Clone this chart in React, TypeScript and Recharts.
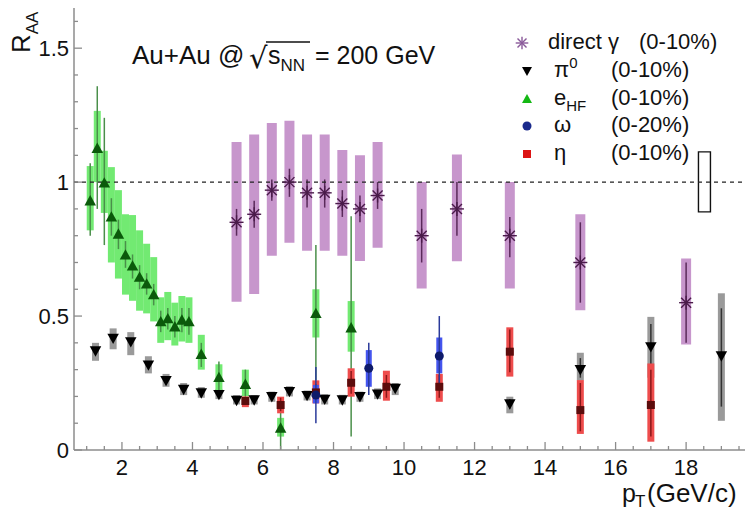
import React from "react";
import { ComposedChart, Scatter, XAxis, YAxis, ErrorBar, ReferenceArea } from "recharts";

const W = 751;
const H = 510;
const FONT = "'Liberation Sans', Arial, sans-serif";
const AXIS_GREY = "#8c8c8c";

// direct gamma (0-10%)
const gammaPt = [5.25, 5.75, 6.25, 6.75, 7.25, 7.75, 8.25, 8.75, 9.25, 10.5, 11.5, 13, 15, 18];
const gammaRaa = [0.85, 0.88, 0.97, 1.0, 0.96, 0.96, 0.92, 0.9, 0.95, 0.8, 0.9, 0.8, 0.7, 0.55];
const gammaStat = [[0.8, 0.9], [0.83, 0.93], [0.93, 1.01], [0.945, 1.05], [0.905, 1.01], [0.905, 1.01], [0.87, 0.97], [0.85, 0.95], [0.9, 1.0], [0.7, 0.9], [0.8, 1.0], [0.72, 0.87], [0.55, 0.85], [0.4, 0.7]];
const gammaSys = [[0.553, 1.15], [0.582, 1.178], [0.725, 1.221], [0.774, 1.229], [0.744, 1.178], [0.744, 1.178], [0.725, 1.12], [0.706, 1.1], [0.755, 1.15], [0.603, 1.0], [0.705, 1.103], [0.603, 1.0], [0.522, 0.88], [0.394, 0.715]];

// pi0 (0-10%)
const pi0Pt = [1.25, 1.75, 2.25, 2.75, 3.25, 3.75, 4.25, 4.75, 5.25, 5.75, 6.25, 6.75, 7.25, 7.75, 8.25, 8.75, 9.25, 9.75, 13, 15, 17, 19];
const pi0Raa = [0.37, 0.417, 0.404, 0.317, 0.259, 0.226, 0.213, 0.207, 0.185, 0.187, 0.199, 0.218, 0.203, 0.189, 0.187, 0.199, 0.209, 0.23, 0.172, 0.3, 0.385, 0.351];
const pi0Stat = [[0.36, 0.38], [0.405, 0.43], [0.39, 0.415], [0.305, 0.33], [0.25, 0.27], [0.218, 0.235], [0.205, 0.222], [0.199, 0.215], [0.178, 0.193], [0.18, 0.195], [0.19, 0.208], [0.208, 0.228], [0.193, 0.213], [0.18, 0.2], [0.177, 0.198], [0.188, 0.21], [0.197, 0.222], [0.215, 0.245], [0.155, 0.19], [0.27, 0.343], [0.3, 0.47], [0.162, 0.529]];
const pi0Sys = [[0.333, 0.4], [0.376, 0.454], [0.354, 0.44], [0.286, 0.35], [0.236, 0.284], [0.205, 0.25], [0.195, 0.235], [0.19, 0.228], [0.17, 0.205], [0.17, 0.205], [0.18, 0.218], [0.2, 0.238], [0.185, 0.222], [0.17, 0.208], [0.17, 0.206], [0.18, 0.218], [0.19, 0.23], [0.205, 0.25], [0.137, 0.199], [0.26, 0.363], [0.27, 0.497], [0.109, 0.585]];

// heavy flavour electrons (0-10%)
const ehfPt = [1.1, 1.3, 1.5, 1.7, 1.9, 2.1, 2.3, 2.5, 2.7, 2.9, 3.1, 3.3, 3.5, 3.7, 3.9, 4.25, 4.75, 5.5, 6.5, 7.5, 8.5];
const ehfRaa = [0.93, 1.126, 0.997, 0.87, 0.806, 0.728, 0.687, 0.645, 0.62, 0.58, 0.479, 0.49, 0.46, 0.485, 0.479, 0.357, 0.271, 0.245, 0.082, 0.51, 0.456];
const ehfStat = [[0.8, 1.07], [0.9, 1.358], [0.765, 1.24], [0.8, 0.94], [0.75, 0.86], [0.68, 0.78], [0.64, 0.73], [0.6, 0.69], [0.58, 0.66], [0.54, 0.62], [0.44, 0.52], [0.45, 0.53], [0.42, 0.5], [0.44, 0.53], [0.43, 0.53], [0.31, 0.4], [0.22, 0.33], [0.19, 0.3], [0.0, 0.16], [0.26, 0.765], [0.05, 0.873]];
const ehfSys = [[0.82, 1.06], [1.0, 1.266], [0.885, 1.117], [0.7, 1.056], [0.64, 0.97], [0.58, 0.88], [0.557, 0.877], [0.52, 0.82], [0.51, 0.77], [0.48, 0.72], [0.4, 0.57], [0.41, 0.59], [0.39, 0.55], [0.405, 0.575], [0.4, 0.57], [0.3, 0.43], [0.22, 0.32], [0.2, 0.3], [0.05, 0.12], [0.42, 0.6], [0.367, 0.556]];

// omega (0-20%)
const omegaPt = [7.5, 9.0, 11.0];
const omegaRaa = [0.205, 0.305, 0.351];
const omegaStat = [[0.1, 0.31], [0.205, 0.4], [0.24, 0.5]];
const omegaSys = [[0.174, 0.243], [0.236, 0.373], [0.286, 0.42]];

// eta (0-10%)
const etaPt = [5.5, 6.5, 7.5, 8.5, 9.5, 11, 13, 15, 17];
const etaRaa = [0.183, 0.168, 0.215, 0.251, 0.236, 0.236, 0.367, 0.149, 0.168];
const etaStat = [[0.168, 0.198], [0.145, 0.195], [0.185, 0.245], [0.21, 0.295], [0.195, 0.28], [0.195, 0.28], [0.29, 0.45], [0.07, 0.25], [0.05, 0.3]];
const etaSys = [[0.16, 0.2], [0.137, 0.199], [0.174, 0.26], [0.199, 0.305], [0.184, 0.296], [0.18, 0.284], [0.274, 0.458], [0.06, 0.261], [0.031, 0.323]];

const xDomain = [0.64, 19.67];
const yDomain = [0, 1.65];
const xTicks = [1, 1.5, 2, 2.5, 3, 3.5, 4, 4.5, 5, 5.5, 6, 6.5, 7, 7.5, 8, 8.5, 9, 9.5, 10, 10.5, 11, 11.5, 12, 12.5, 13, 13.5, 14, 14.5, 15, 15.5, 16, 16.5, 17, 17.5, 18, 18.5, 19, 19.5];
const xLabels = [2, 4, 6, 8, 10, 12, 14, 16, 18];
const yTicks = [0, 0.1, 0.2, 0.3, 0.4, 0.5, 0.6, 0.7, 0.8, 0.9, 1, 1.1, 1.2, 1.3, 1.4, 1.5, 1.6];
const yLabels = [0, 0.5, 1, 1.5];
// R_AA = 1 reference, across the full pT range
const unityLine = [{ x: xDomain[0], y: 1 }, { x: xDomain[1], y: 1 }];
// global normalisation uncertainty box near pT = 18.5
const normBox = { x1: 18.35, x2: 18.69, y1: 0.889, y2: 1.113 };

function rows(pt: number[], v: number[], stat: number[][], sys: number[][]) {
  return pt.map((x, i) => ({
    x,
    y: v[i],
    stat: [v[i] - stat[i][0], stat[i][1] - v[i]],
    sys: [v[i] - sys[i][0], sys[i][1] - v[i]],
  }));
}

const gammaData = rows(gammaPt, gammaRaa, gammaStat, gammaSys);
const pi0Data = rows(pi0Pt, pi0Raa, pi0Stat, pi0Sys);
const ehfData = rows(ehfPt, ehfRaa, ehfStat, ehfSys);
const omegaData = rows(omegaPt, omegaRaa, omegaStat, omegaSys);
const etaData = rows(etaPt, etaRaa, etaStat, etaSys);

const isLabelX = (v: number) => xLabels.includes(v);
const isLabelY = (v: number) => yLabels.some((l) => Math.abs(l - v) < 1e-6);

function XTickBottom({ x, y, payload }: any) {
  const v = payload.value;
  const len = isLabelX(v) ? 8 : 4;
  return (
    <g>
      <line x1={x} x2={x} y1={y} y2={y - len} stroke={AXIS_GREY} strokeWidth={1.3} />
      {isLabelX(v) && (
        <text x={x} y={y + 25} textAnchor="middle" fontSize={22} fontFamily={FONT} fill="#111">
          {v}
        </text>
      )}
    </g>
  );
}

function XTickTop({ x, y, payload }: any) {
  const len = isLabelX(payload.value) ? 8 : 4;
  return <line x1={x} x2={x} y1={y} y2={y + len} stroke={AXIS_GREY} strokeWidth={1.3} />;
}

function YTickLeft({ x, y, payload }: any) {
  const v = payload.value;
  const len = isLabelY(v) ? 8 : 4;
  return (
    <g>
      <line x1={x} x2={x + len} y1={y} y2={y} stroke={AXIS_GREY} strokeWidth={1.3} />
      {isLabelY(v) && (
        <text x={x - 5} y={y + 8} textAnchor="end" fontSize={22} fontFamily={FONT} fill="#111">
          {v}
        </text>
      )}
    </g>
  );
}

function YTickRight({ x, y, payload }: any) {
  const len = isLabelY(payload.value) ? 8 : 4;
  return <line x1={x} x2={x - len} y1={y} y2={y} stroke={AXIS_GREY} strokeWidth={1.3} />;
}

function DownTri({ cx, cy, fill = "#000", s = 1.15 }: any) {
  return <path d={`M${cx - 5 * s},${cy - 4 * s} L${cx + 5 * s},${cy - 4 * s} L${cx},${cy + 5 * s} Z`} fill={fill} />;
}

function UpTri({ cx, cy, fill = "#0b5a0b", s = 1.15 }: any) {
  return <path d={`M${cx - 5 * s},${cy + 4 * s} L${cx + 5 * s},${cy + 4 * s} L${cx},${cy - 5 * s} Z`} fill={fill} />;
}

function Star({ cx, cy, stroke = "#4a1b4a", s = 1 }: any) {
  const r = 7 * s;
  const d = 5 * s;
  return (
    <g stroke={stroke} strokeWidth={1.4}>
      <line x1={cx - r} x2={cx + r} y1={cy} y2={cy} />
      <line x1={cx} x2={cx} y1={cy - r} y2={cy + r} />
      <line x1={cx - d} x2={cx + d} y1={cy - d} y2={cy + d} />
      <line x1={cx - d} x2={cx + d} y1={cy + d} y2={cy - d} />
    </g>
  );
}

function Dot({ cx, cy, fill = "#0e1a6a", r = 4.5 }: any) {
  return <circle cx={cx} cy={cy} r={r} fill={fill} />;
}

function Sq({ cx, cy, fill = "#5c0c0c", h = 4 }: any) {
  return <rect x={cx - h} y={cy - h} width={2 * h} height={2 * h} fill={fill} />;
}

function Overlay() {
  const rowsY = [49, 77, 105, 132, 160];
  const lx = 554;
  const px = 611;
  const t = { fontSize: 22, fontFamily: FONT, fill: "#111" };
  return (
    <svg width={W} height={H} style={{ position: "absolute", left: 0, top: 0, pointerEvents: "none" }}>
      <text x={30} y={53} transform="rotate(-90 30 53)" fontSize={26} fontFamily={FONT} fill="#111">
        R<tspan fontSize={17} dy={8}>AA</tspan>
      </text>

      <text x={132} y={64} fontSize={26} fontFamily={FONT} fill="#111">Au+Au @</text>
      <text x={249} y={68} fontSize={29} fontFamily="'DejaVu Sans', sans-serif" fill="#111">√</text>
      <line x1={266} x2={310} y1={42} y2={42} stroke="#111" strokeWidth={1.4} />
      <text x={268} y={64} fontSize={25} fontFamily={FONT} fill="#111">
        s<tspan fontSize={17} dy={7}>NN</tspan>
      </text>
      <text x={315} y={64} fontSize={25} fontFamily={FONT} fill="#111">= 200 GeV</text>

      <Star cx={522} cy={rowsY[0] - 6} stroke="#8a5a9a" s={0.9} />
      <text x={548} y={rowsY[0]} {...t}>direct γ</text>
      <text x={639} y={rowsY[0]} {...t}>(0-10%)</text>

      <DownTri cx={527} cy={rowsY[1] - 6} fill="#000" s={1} />
      <text x={lx} y={rowsY[1]} {...t}>
        π<tspan fontSize={15} dy={-9}>0</tspan>
      </text>
      <text x={px} y={rowsY[1]} {...t}>(0-10%)</text>

      <UpTri cx={527} cy={rowsY[2] - 6} fill="#14b814" s={1} />
      <text x={lx} y={rowsY[2]} {...t}>
        e<tspan fontSize={15} dy={6}>HF</tspan>
      </text>
      <text x={px} y={rowsY[2]} {...t}>(0-10%)</text>

      <Dot cx={527} cy={rowsY[3] - 6} fill="#1a2a8c" r={4.5} />
      <text x={lx} y={rowsY[3]} {...t}>ω</text>
      <text x={px} y={rowsY[3]} {...t}>(0-20%)</text>

      <Sq cx={527} cy={rowsY[4] - 6} fill="#dc1414" h={4} />
      <text x={lx} y={rowsY[4]} {...t}>η</text>
      <text x={px} y={rowsY[4]} {...t}>(0-10%)</text>

      <text x={622} y={502} fontSize={25} fontFamily={FONT} fill="#111">p</text>
      <text x={635} y={507} fontSize={17} fontFamily={FONT} fill="#111">T</text>
      <text x={647} y={502} fontSize={26} fontFamily={FONT} fill="#111">(GeV/c)</text>
    </svg>
  );
}

export default function App() {
  return (
    <div style={{ position: "absolute", left: 0, top: 0, width: W, height: H, background: "#fff" }}>
      <ComposedChart width={W} height={H} margin={{ top: 8, right: 6, bottom: 0, left: 0 }}>
        <XAxis
          xAxisId="b"
          dataKey="x"
          type="number"
          domain={xDomain}
          allowDataOverflow
          ticks={xTicks}
          interval={0}
          tickSize={0}
          tickMargin={0}
          tickLine={false}
          height={60}
          axisLine={{ stroke: AXIS_GREY, strokeWidth: 1.5 }}
          tick={<XTickBottom />}
        />
        <XAxis
          xAxisId="t"
          orientation="top"
          type="number"
          domain={xDomain}
          allowDataOverflow
          ticks={xTicks}
          interval={0}
          tickSize={0}
          tickMargin={0}
          tickLine={false}
          height={0}
          axisLine={{ stroke: AXIS_GREY, strokeWidth: 1.5 }}
          tick={<XTickTop />}
        />
        <YAxis
          yAxisId="l"
          dataKey="y"
          type="number"
          domain={yDomain}
          allowDataOverflow
          ticks={yTicks}
          interval={0}
          tickSize={0}
          tickMargin={0}
          tickLine={false}
          width={74}
          axisLine={{ stroke: AXIS_GREY, strokeWidth: 1.5 }}
          tick={<YTickLeft />}
        />
        <YAxis
          yAxisId="r"
          orientation="right"
          type="number"
          domain={yDomain}
          allowDataOverflow
          ticks={yTicks}
          interval={0}
          tickSize={0}
          tickMargin={0}
          tickLine={false}
          width={0}
          axisLine={{ stroke: AXIS_GREY, strokeWidth: 1.5 }}
          tick={<YTickRight />}
        />

        <Scatter
          xAxisId="b"
          yAxisId="l"
          data={unityLine}
          isAnimationActive={false}
          line={{ stroke: "#222", strokeDasharray: "4 4", strokeWidth: 1.2 }}
          shape={() => <g />}
        />
        <ReferenceArea
          xAxisId="b"
          yAxisId="l"
          x1={normBox.x1}
          x2={normBox.x2}
          y1={normBox.y1}
          y2={normBox.y2}
          fill="none"
          fillOpacity={0}
          stroke="#111"
          strokeWidth={1.4}
        />

        <Scatter xAxisId="b" yAxisId="l" data={gammaData} isAnimationActive={false} shape={(p: any) => <Star cx={p.cx} cy={p.cy} />}>
          <ErrorBar dataKey="sys" direction="y" width={0} strokeWidth={10} stroke="#c796cc" isAnimationActive={false} />
          <ErrorBar dataKey="stat" direction="y" width={0} strokeWidth={1.5} stroke="#5a2a5a" isAnimationActive={false} />
        </Scatter>

        <Scatter xAxisId="b" yAxisId="l" data={pi0Data} isAnimationActive={false} shape={(p: any) => <DownTri cx={p.cx} cy={p.cy} />}>
          <ErrorBar dataKey="sys" direction="y" width={0} strokeWidth={7} stroke="#9a9a9a" isAnimationActive={false} />
          <ErrorBar dataKey="stat" direction="y" width={0} strokeWidth={1.5} stroke="#333" isAnimationActive={false} />
        </Scatter>

        <Scatter xAxisId="b" yAxisId="l" data={ehfData} isAnimationActive={false} shape={(p: any) => <UpTri cx={p.cx} cy={p.cy} />}>
          <ErrorBar dataKey="sys" direction="y" width={0} strokeWidth={7} stroke="#72ea72" isAnimationActive={false} />
          <ErrorBar dataKey="stat" direction="y" width={0} strokeWidth={1.5} stroke="#4a8f4a" isAnimationActive={false} />
        </Scatter>

        <Scatter xAxisId="b" yAxisId="l" data={etaData} isAnimationActive={false} shape={(p: any) => <Sq cx={p.cx} cy={p.cy} />}>
          <ErrorBar dataKey="sys" direction="y" width={0} strokeWidth={7} stroke="#ee4c4c" isAnimationActive={false} />
          <ErrorBar dataKey="stat" direction="y" width={0} strokeWidth={1.5} stroke="#8a1818" isAnimationActive={false} />
        </Scatter>

        <Scatter xAxisId="b" yAxisId="l" data={omegaData} isAnimationActive={false} shape={(p: any) => <Dot cx={p.cx} cy={p.cy} />}>
          <ErrorBar dataKey="sys" direction="y" width={0} strokeWidth={6} stroke="#4455ee" isAnimationActive={false} />
          <ErrorBar dataKey="stat" direction="y" width={0} strokeWidth={1.5} stroke="#2a3a9a" isAnimationActive={false} />
        </Scatter>
      </ComposedChart>
      <Overlay />
    </div>
  );
}
